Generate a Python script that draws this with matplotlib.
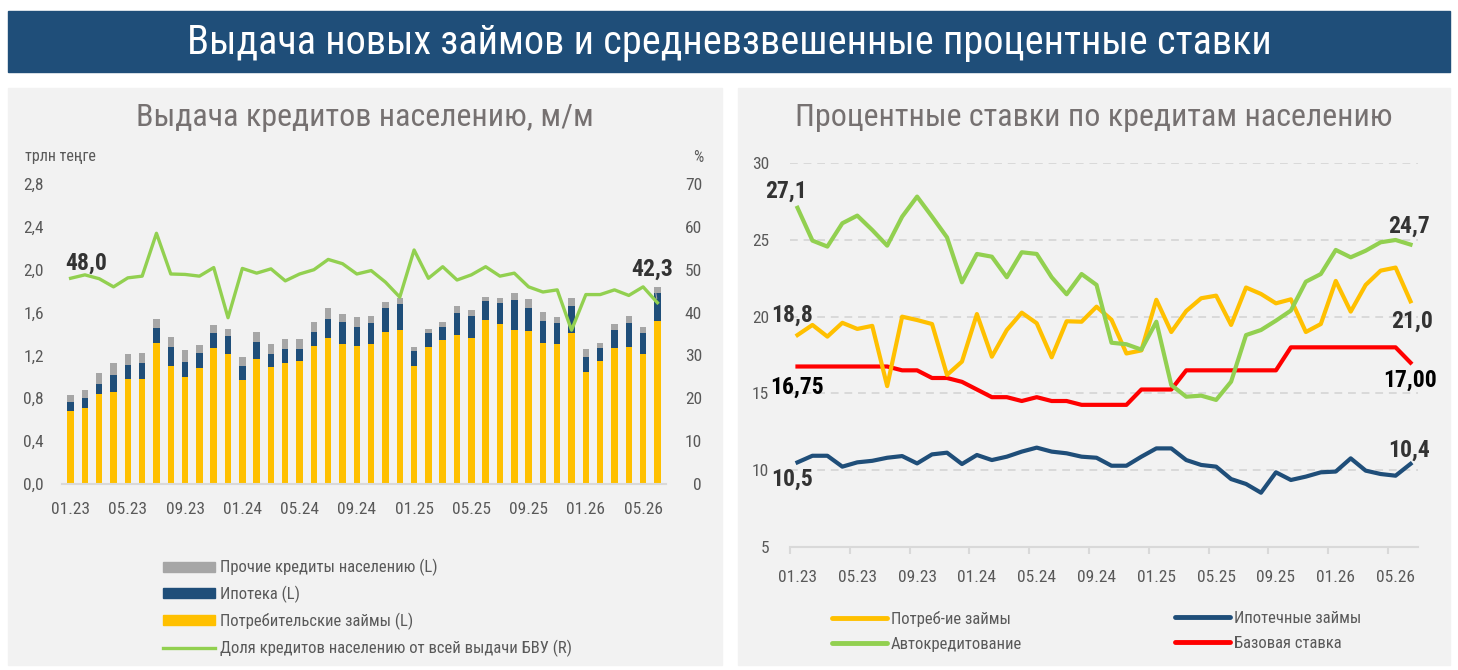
import matplotlib

matplotlib.use("Agg")
import matplotlib.pyplot as plt
import numpy as np
import pandas as pd
from matplotlib import font_manager as fm
from matplotlib.lines import Line2D
from matplotlib.patches import Patch, Rectangle
from matplotlib.ticker import FixedLocator, FuncFormatter, NullFormatter

W, H = 1458, 670

MONTHS = [p.strftime("%m.%y") for p in pd.period_range("2023-01", "2026-06", freq="M")]

# выдача, трлн тенге
consumer = [0.685, 0.71, 0.84, 0.86, 0.98, 0.98, 1.32, 1.10, 1.00, 1.08, 1.27, 1.21, 0.97, 1.17,
            1.09, 1.13, 1.15, 1.29, 1.36, 1.31, 1.29, 1.31, 1.42, 1.44, 1.105, 1.28, 1.34, 1.39,
            1.36, 1.53, 1.49, 1.44, 1.43, 1.32, 1.31, 1.41, 1.05, 1.15, 1.27, 1.28, 1.21, 1.52]
mortgage = [0.085, 0.09, 0.095, 0.16, 0.13, 0.15, 0.14, 0.18, 0.14, 0.14, 0.14, 0.17, 0.13, 0.16,
            0.12, 0.13, 0.11, 0.13, 0.18, 0.20, 0.18, 0.19, 0.22, 0.24, 0.135, 0.13, 0.13, 0.21,
            0.21, 0.18, 0.20, 0.28, 0.21, 0.20, 0.19, 0.25, 0.14, 0.12, 0.17, 0.22, 0.20, 0.26]
other = [0.06, 0.075, 0.105, 0.105, 0.10, 0.09, 0.08, 0.09, 0.11, 0.08, 0.07, 0.07, 0.09, 0.09,
         0.10, 0.09, 0.09, 0.09, 0.10, 0.08, 0.09, 0.07, 0.055, 0.06, 0.04, 0.04, 0.04, 0.06,
         0.05, 0.04, 0.05, 0.065, 0.09, 0.09, 0.06, 0.075, 0.07, 0.05, 0.05, 0.07, 0.06, 0.06]
# доля в выдаче БВУ, %
share = [48.0, 48.8, 47.9, 46.0, 48.1, 48.5, 58.5, 49.0, 48.9, 48.5, 50.5, 38.8, 50.3, 49.2,
         50.2, 47.4, 49.0, 50.0, 52.4, 51.4, 49.0, 49.8, 47.1, 43.6, 54.6, 48.0, 50.7, 47.6,
         48.8, 50.7, 48.5, 49.2, 46.0, 44.8, 45.3, 35.9, 44.2, 44.2, 45.3, 44.0, 46.0, 42.3]

# ставки, %
rate_consumer = [18.8, 19.46, 18.7, 19.6, 19.2, 19.4, 15.47, 20.0, 19.78, 19.52, 16.2, 17.07,
                 20.17, 17.39, 19.13, 20.26, 19.57, 17.35, 19.7, 19.67, 20.65, 19.8, 17.6, 17.8,
                 21.1, 19.0, 20.37, 21.2, 21.37, 19.46, 21.9, 21.48, 20.87, 21.13, 19.0, 19.52,
                 22.33, 20.33, 22.07, 23.0, 23.2, 21.0]
rate_auto = [27.1, 24.96, 24.57, 26.09, 26.59, 25.65, 24.63, 26.52, 27.83, 26.52, 25.17, 22.24,
             24.09, 23.91, 22.57, 24.2, 24.09, 22.57, 21.46, 22.78, 22.07, 18.3, 18.2, 17.85,
             19.67, 15.54, 14.78, 14.85, 14.57, 15.76, 18.8, 19.13, 19.74, 20.4, 22.28, 22.78,
             24.35, 23.87, 24.3, 24.85, 25.0, 24.7]
rate_mortgage = [10.5, 10.93, 10.93, 10.22, 10.5, 10.6, 10.8, 10.91, 10.43, 11.02, 11.13, 10.39,
                 10.98, 10.65, 10.87, 11.2, 11.46, 11.2, 11.09, 10.87, 10.8, 10.28, 10.28, 10.87,
                 11.41, 11.41, 10.65, 10.33, 10.22, 9.41, 9.09, 8.52, 9.85, 9.35, 9.57, 9.85,
                 9.9, 10.76, 9.96, 9.74, 9.63, 10.4]
rate_base = [16.75, 16.75, 16.75, 16.75, 16.75, 16.75, 16.75, 16.5, 16.5, 16.0, 16.0, 15.75,
             15.25, 14.75, 14.75, 14.5, 14.75, 14.5, 14.5, 14.25, 14.25, 14.25, 14.25, 15.25,
             15.25, 15.25, 16.5, 16.5, 16.5, 16.5, 16.5, 16.5, 16.5, 18.0, 18.0, 18.0, 18.0,
             18.0, 18.0, 18.0, 18.0, 17.0]

NAVY = "#1F4E79"
YELLOW = "#FFC000"
GREY = "#A6A6A6"
GREEN = "#92D050"
RED = "#FF0000"
PANEL = "#F2F2F2"
TXT = "#595959"
DARK = "#333333"


def pick_font():
    fonts = fm.fontManager.ttflist
    names = {f.name for f in fonts}
    for name in ("Roboto Condensed", "Liberation Sans Narrow", "DejaVu Sans Condensed"):
        if name in names:
            return name, "normal"
    if any(f.name == "DejaVu Sans" and "Condensed" in f.fname for f in fonts):
        return "DejaVu Sans", "condensed"
    return "DejaVu Sans", "normal"


FONT, STRETCH = pick_font()
plt.rcParams["font.family"] = [FONT, "DejaVu Sans"]
plt.rcParams["font.stretch"] = STRETCH


def box(x0, y0, x1, y1):
    return [x0 / W, 1 - y1 / H, (x1 - x0) / W, (y1 - y0) / H]


def comma(fmt):
    return FuncFormatter(lambda v, _: format(v, fmt).replace(".", ","))


fig = plt.figure(figsize=(W / 100, H / 100), dpi=100, facecolor="white")

# фон, шапка, заголовки панелей
bg = fig.add_axes([0, 0, 1, 1], zorder=-5)
bg.set_xlim(0, W)
bg.set_ylim(H, 0)
bg.axis("off")
bg.add_patch(Rectangle((8, 11), 1442, 61, color=NAVY))
bg.add_patch(Rectangle((8, 88), 714, 577, color=PANEL))
bg.add_patch(Rectangle((738, 88), 712, 577, color=PANEL))
bg.text(729, 43, "Выдача новых займов и средневзвешенные процентные ставки", color="white",
        fontsize=29, ha="center", va="center")
bg.text(365, 117, "Выдача кредитов населению, м/м", color="#767171", fontsize=23,
        ha="center", va="center")
bg.text(1094, 117, "Процентные ставки по кредитам населению", color="#767171", fontsize=23,
        ha="center", va="center")
bg.text(25, 157, "трлн теңге", color=TXT, fontsize=11.5, ha="left", va="center")
bg.text(703, 157, "%", color=TXT, fontsize=11.5, ha="right", va="center")

# левая панель
x = np.arange(len(MONTHS))
cons = np.array(consumer)
mort = np.array(mortgage)
oth = np.array(other)

ax = fig.add_axes(box(62, 184, 666, 484))
ax.set_facecolor("none")
ax.bar(x, cons, 0.45, color=YELLOW, zorder=2)
ax.bar(x, mort, 0.45, bottom=cons, color=NAVY, zorder=2)
ax.bar(x, oth, 0.45, bottom=cons + mort, color=GREY, zorder=2)
ax.set_xlim(-0.6, 41.6)
ax.set_ylim(0, 2.8)
ax.set_yticks(np.arange(0, 2.81, 0.4))
ax.yaxis.set_major_formatter(comma(".1f"))
ax.set_xticks(x[::4])
ax.set_xticklabels(MONTHS[::4])
for s in ("top", "right", "left"):
    ax.spines[s].set_visible(False)
ax.spines["bottom"].set_color("#D9D9D9")
ax.spines["bottom"].set_linewidth(1.5)
ax.tick_params(axis="x", length=0, pad=13, labelsize=12.5, labelcolor=TXT)
ax.tick_params(axis="y", length=0, pad=13, labelsize=12.5, labelcolor=TXT)

ax2 = ax.twinx()
ax2.plot(x, share, color=GREEN, lw=2.4, zorder=3)
ax2.set_ylim(0, 70)
ax2.set_yticks(np.arange(0, 71, 10))
for s in ax2.spines.values():
    s.set_visible(False)
ax2.tick_params(axis="y", length=0, pad=26, labelsize=12.5, labelcolor=TXT)
for lab in ax2.get_yticklabels():
    lab.set_horizontalalignment("right")
ax2.annotate("48,0", (0, share[0]), xytext=(11, 11), textcoords="offset points",
             ha="center", va="center", fontsize=17, fontweight="bold", color=DARK)
ax2.annotate("42,3", (41, share[-1]), xytext=(-4, 24), textcoords="offset points",
             ha="center", va="center", fontsize=17, fontweight="bold", color=DARK,
             arrowprops=dict(arrowstyle="-", color=GREY, lw=0.8, shrinkA=7, shrinkB=3))

left_handles = [Patch(color=GREY), Patch(color=NAVY), Patch(color=YELLOW),
                Line2D([], [], color=GREEN, lw=2.4)]
left_labels = ["Прочие кредиты населению (L)", "Ипотека (L)", "Потребительские займы (L)",
               "Доля кредитов населению от всей выдачи БВУ (R)"]
fig.legend(left_handles, left_labels, loc="upper left", bbox_to_anchor=(163 / W, 1 - 559 / H),
           frameon=False, fontsize=12, handlelength=3.1, handleheight=0.55, handletextpad=0.3,
           labelspacing=0.58, borderpad=0, borderaxespad=0, labelcolor=TXT)

# правая панель
bx = fig.add_axes(box(790, 163.3, 1418, 546.7))
bx.set_facecolor("none")
bx.plot(x, rate_base, color=RED, lw=3, zorder=3)
bx.plot(x, rate_consumer, color=YELLOW, lw=3, zorder=3)
bx.plot(x, rate_auto, color=GREEN, lw=3, zorder=4)
bx.plot(x, rate_mortgage, color=NAVY, lw=3, zorder=4)
bx.set_xlim(-0.5, 41.5)
bx.set_ylim(5, 30)
bx.set_yticks(np.arange(5, 31, 5))
for v in range(10, 31, 5):
    bx.axhline(v, color="#D9D9D9", lw=1.4, ls=(0, (4, 3)), zorder=1)
for s in ("top", "right", "left"):
    bx.spines[s].set_visible(False)
bx.spines["bottom"].set_color("#D9D9D9")
bx.spines["bottom"].set_linewidth(1.5)
bx.set_xticks(x[::4])
bx.set_xticklabels(MONTHS[::4])
bx.xaxis.set_minor_locator(FixedLocator(x[::4] - 0.5))
bx.xaxis.set_minor_formatter(NullFormatter())
bx.tick_params(axis="x", which="major", length=0, pad=17, labelsize=12.5, labelcolor=TXT)
bx.tick_params(axis="x", which="minor", length=5, width=1.5, color="#D9D9D9", direction="out")
bx.tick_params(axis="y", length=0, pad=15, labelsize=12.5, labelcolor=TXT)

labels_right = [
    ("27,1", 0, rate_auto[0], (-8, 12), DARK),
    ("18,8", 0, rate_consumer[0], (-4, 14), DARK),
    ("16,75", 0, rate_base[0], (0, -15), "black"),
    ("10,5", 0, rate_mortgage[0], (-4, -12), DARK),
    ("24,7", 41, rate_auto[-1], (-1, 13), DARK),
    ("21,0", 41, rate_consumer[-1], (1, -14), DARK),
    ("17,00", 41, rate_base[-1], (0, -13), "black"),
    ("10,4", 41, rate_mortgage[-1], (-1, 10), DARK),
]
for text, i, v, off, col in labels_right:
    bx.annotate(text, (i, v), xytext=off, textcoords="offset points", ha="center",
                va="center", fontsize=17, fontweight="bold", color=col)

legend_kw = dict(loc="upper left", frameon=False, fontsize=12, handlelength=3.3,
                 handletextpad=0.25, labelspacing=0.6, borderpad=0, borderaxespad=0,
                 labelcolor=TXT)
fig.legend([Line2D([], [], color=YELLOW, lw=3.5, solid_capstyle="round"),
            Line2D([], [], color=GREEN, lw=3.5, solid_capstyle="round")],
           ["Потреб-ие займы", "Автокредитование"],
           bbox_to_anchor=(832 / W, 1 - 611 / H), **legend_kw)
fig.legend([Line2D([], [], color=NAVY, lw=3.5, solid_capstyle="round"),
            Line2D([], [], color=RED, lw=3.5, solid_capstyle="round")],
           ["Ипотечные займы", "Базовая ставка"],
           bbox_to_anchor=(1175 / W, 1 - 611 / H), **legend_kw)

fig.savefig("out.png", dpi=100, facecolor="white")
